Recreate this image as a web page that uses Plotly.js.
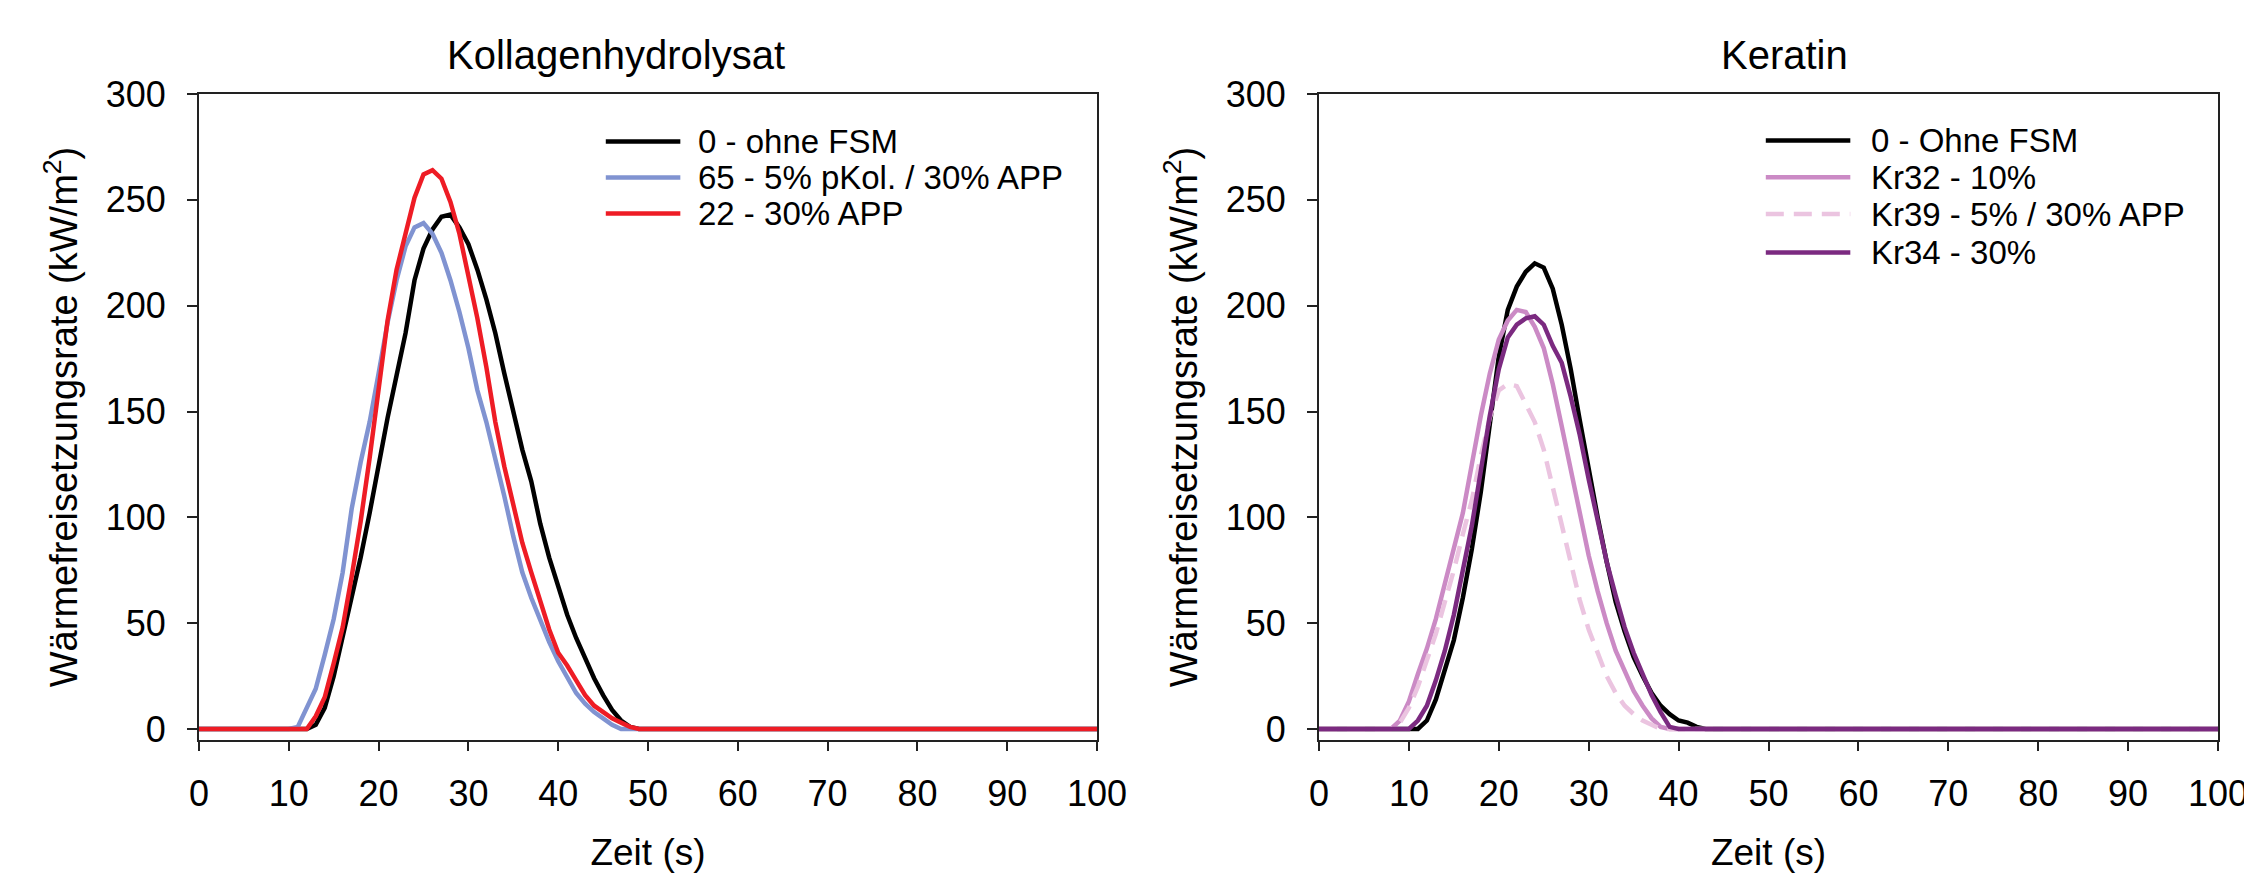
<!DOCTYPE html>
<html>
<head>
<meta charset="utf-8">
<script src="https://cdn.plot.ly/plotly-3.0.1.min.js"></script>
<style>
  html, body { margin: 0; padding: 0; background: #ffffff; }
  #chart { width: 2244px; height: 873px; }
</style>
</head>
<body>
<div id="chart"></div>
<script>
// ---------- Data: Kollagenhydrolysat (left panel) ----------
const kolTimeOhne = [0,12,13,14,15,16,17,18,19,20,21,22,23,24,25,26,27,28,29,30,31,32,33,34,35,36,37,38,39,40,41,42,43,44,45,46,47,48,49,100];
const kolOhne     = [0,0,2,10,25,43,61,81,102,125,147,167,187,212,227,236,242,243,237,229,217,203,187,168,150,132,117,97,81,67,54,43,33,24,16,9,4,1,0,0];

const kolTime65 = [0,10,11,12,13,14,15,16,17,18,19,20,21,22,23,24,25,26,27,28,29,30,31,32,33,34,35,36,37,38,39,40,41,42,43,44,45,46,47,100];
const kol65     = [0,0,1,10,19,35,52,74,104,126,145,168,192,212,228,237,239,234,225,212,197,180,160,145,128,110,91,74,62,51,41,32,24,17,12,8,5,2,0,0];

const kolTime22 = [0,12,13,14,15,16,17,18,19,20,21,22,23,24,25,26,27,28,29,30,31,32,33,34,35,36,37,38,39,40,41,42,43,44,45,46,47,48,49,100];
const kol22     = [0,0,6,15,31,48,72,98,128,162,193,217,235,251,262,264,260,249,234,214,194,171,145,124,106,88,74,61,47,36,30,23,16,11,8,5,3,1,0,0];

const kolNames  = ['0 - ohne FSM', '65 - 5% pKol. / 30% APP', '22 - 30% APP'];
const kolColors = ['#000000', '#8093D1', '#EE1C25'];

// ---------- Data: Keratin (right panel) ----------
const kerTimeOhne = [0,11,12,13,14,15,16,17,18,19,20,21,22,23,24,25,26,27,28,29,30,31,32,33,34,35,36,37,38,39,40,41,42,43,100];
const kerOhne     = [0,0,4,14,28,42,62,85,112,145,176,198,209,216,220,218,208,191,170,146,122,100,79,60,46,34,25,17,11,7,4,3,1,0,0];

const kerTime32 = [0,8,9,10,11,12,13,14,15,16,17,18,19,20,21,22,23,24,25,26,27,28,29,30,31,32,33,34,35,36,37,38,39,100];
const ker32     = [0,0,4,13,26,38,52,68,85,102,125,148,168,184,193,198,197,190,180,163,143,122,101,82,65,50,37,27,18,11,5,1,0,0];

const kerTime39 = [0,8,9,10,11,12,13,14,15,16,17,18,19,20,21,22,23,24,25,26,27,28,29,30,31,32,33,34,35,36,37,38,100];
const ker39     = [0,0,3,10,20,32,45,60,75,92,108,129,147,160,163,162,154,145,132,114,96,78,61,47,36,25,17,11,7,4,2,0,0];

const kerTime34 = [0,10,11,12,13,14,15,16,17,18,19,20,21,22,23,24,25,26,27,28,29,30,31,32,33,34,35,36,37,38,39,40,100];
const ker34     = [0,0,4,11,23,37,54,75,96,122,148,170,185,191,194,195,191,181,173,157,139,118,98,79,63,48,36,26,16,8,1,0,0];

const kerNames  = ['0 - Ohne FSM', 'Kr32 - 10%', 'Kr39 - 5% / 30% APP', 'Kr34 - 30%'];
const kerColors = ['#000000', '#CB8AC5', '#EBC4E0', '#7B2A80'];
const kerDash   = ['solid', 'solid', '18px,10px', 'solid'];

const panelTitles = ['Kollagenhydrolysat', 'Keratin'];
const xTitle = 'Zeit (s)';
const yTitle = 'Wärmefreisetzungsrate (kW/m<sup>2</sup>)';
const xTicks = [0,10,20,30,40,50,60,70,80,90,100];
const yTicks = [0,50,100,150,200,250,300];

// ---------- Traces ----------
const LW = 4.5;
const kolX = [kolTimeOhne, kolTime65, kolTime22];
const kolY = [kolOhne, kol65, kol22];
const kerX = [kerTimeOhne, kerTime32, kerTime39, kerTime34];
const kerY = [kerOhne, ker32, ker39, ker34];

const traces = [];
kolNames.forEach((n, i) => traces.push({
  type: 'scatter', mode: 'lines', name: n, x: kolX[i], y: kolY[i],
  xaxis: 'x', yaxis: 'y', showlegend: false,
  line: { color: kolColors[i], width: LW }
}));
kerNames.forEach((n, i) => traces.push({
  type: 'scatter', mode: 'lines', name: n, x: kerX[i], y: kerY[i],
  xaxis: 'x2', yaxis: 'y2', showlegend: false,
  line: { color: kerColors[i], width: LW, dash: kerDash[i] }
}));

// ---------- Layout ----------
const FONT = 'Liberation Sans, Arial, sans-serif';
const W = 2244, H = 873;
function axisX(domain, anchor) {
  return {
    domain: domain, anchor: anchor, range: [0, 100],
    tickmode: 'array', tickvals: xTicks, ticktext: xTicks.map(String),
    ticks: 'outside', ticklen: 9, tickwidth: 2, tickcolor: '#222',
    showline: true, linewidth: 2, linecolor: '#222', mirror: true,
    showgrid: false, zeroline: false, automargin: false,
    ticklabelstandoff: 12, ticklabeloverflow: 'allow',
    tickfont: { family: FONT, size: 36, color: '#000' },
    title: { text: xTitle, font: { family: FONT, size: 37, color: '#000' }, standoff: 45 }
  };
}
function axisY(domain, anchor) {
  return {
    domain: domain, anchor: anchor, range: [-5.2, 300],
    tickmode: 'array', tickvals: yTicks, ticktext: yTicks.map(String),
    ticks: 'outside', ticklen: 10, tickwidth: 2, tickcolor: '#222',
    showline: true, linewidth: 2, linecolor: '#222', mirror: true,
    showgrid: false, zeroline: false, automargin: false,
    ticklabelstandoff: 14, ticklabeloverflow: 'allow',
    tickfont: { family: FONT, size: 36, color: '#000' },
    title: { text: yTitle, font: { family: FONT, size: 38, color: '#000' }, standoff: 16 }
  };
}

const yDom = [1 - 740 / H, 1 - 94 / H];
const layout = {
  width: W, height: H,
  margin: { l: 0, r: 0, t: 0, b: 0, pad: 0 },
  paper_bgcolor: '#ffffff', plot_bgcolor: '#ffffff',
  font: { family: FONT, color: '#000' },
  showlegend: false,
  xaxis: axisX([199 / W, 1097 / W], 'y'),
  yaxis: axisY(yDom, 'x'),
  xaxis2: axisX([1319 / W, 2218 / W], 'y2'),
  yaxis2: axisY(yDom, 'x2'),
  shapes: [],
  annotations: [
    { text: panelTitles[0], xref: 'paper', yref: 'paper', x: 616 / W, y: 1 - 55 / H,
      xanchor: 'center', yanchor: 'middle', showarrow: false,
      font: { family: FONT, size: 40, color: '#000' } },
    { text: panelTitles[1], xref: 'paper', yref: 'paper', x: 1784 / W, y: 1 - 55 / H,
      xanchor: 'center', yanchor: 'middle', showarrow: false,
      font: { family: FONT, size: 40, color: '#000' } }
  ]
};

// ---------- Custom legends (long sample lines, like the original) ----------
function addLegend(xr, yr, x0, x1, xt, rows, names, colors, dashes) {
  names.forEach((n, i) => {
    layout.shapes.push({ type: 'line', xref: xr, yref: yr, x0: x0, x1: x1, y0: rows[i], y1: rows[i],
      line: { color: colors[i], width: LW, dash: dashes ? dashes[i] : 'solid' } });
    layout.annotations.push({ text: n, xref: xr, yref: yr, x: xt, y: rows[i],
      xanchor: 'left', yanchor: 'middle', showarrow: false,
      font: { family: FONT, size: 33, color: '#000' } });
  });
}
addLegend('x', 'y', 45.3, 53.6, 55.4, [277.5, 260.5, 243.5], kolNames, kolColors, null);
addLegend('x2', 'y2', 49.7, 59.1, 61.2, [278.0, 260.7, 243.3, 225.1], kerNames, kerColors, kerDash);

Plotly.newPlot('chart', traces, layout, { displayModeBar: false, staticPlot: true });
</script>
</body>
</html>
